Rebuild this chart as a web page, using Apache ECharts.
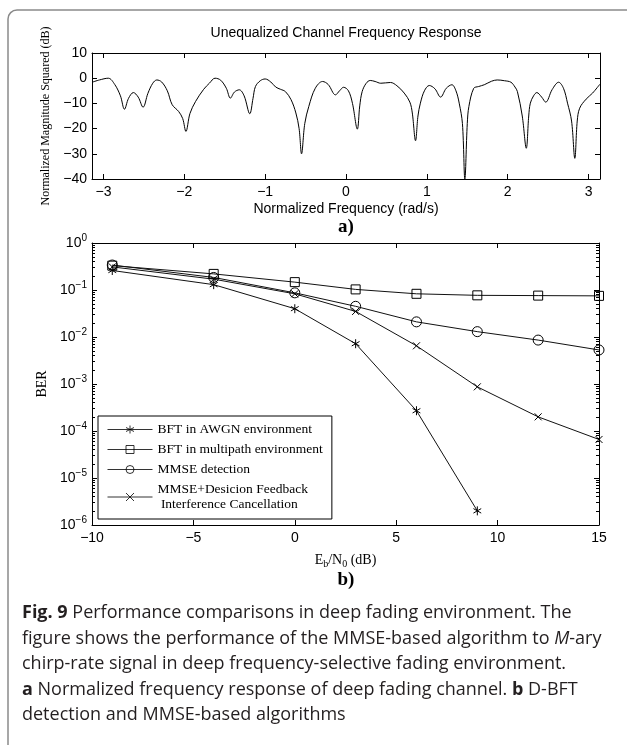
<!DOCTYPE html>
<html>
<head>
<meta charset="utf-8">
<script src="https://cdn.jsdelivr.net/npm/echarts@6/dist/echarts.min.js"></script>
<style>
html,body{margin:0;padding:0;background:#fff;}
#c{width:627px;height:745px;}
</style>
</head>
<body>
<div id="c"></div>
<script>
// ---------- Data: panel a) channel response ----------
const freqX = [-3.14,-3.05,-2.94,-2.86,-2.79,-2.74,-2.69,-2.63,-2.57,-2.51,-2.45,-2.39,-2.34,-2.28,-2.21,-2.15,-2.07,-2.02,-1.98,-1.93,-1.86,-1.76,-1.69,-1.62,-1.55,-1.48,-1.43,-1.38,-1.32,-1.26,-1.19,-1.15,-1.12,-1.06,-1.0,-0.93,-0.87,-0.81,-0.75,-0.68,-0.62,-0.58,-0.55,-0.51,-0.46,-0.38,-0.29,-0.22,-0.13,-0.08,-0.03,0.03,0.08,0.14,0.17,0.20,0.25,0.30,0.36,0.43,0.55,0.63,0.72,0.79,0.82,0.86,0.89,0.92,0.97,1.03,1.10,1.17,1.24,1.31,1.36,1.40,1.44,1.47,1.50,1.52,1.58,1.64,1.71,1.80,1.87,1.96,2.04,2.09,2.12,2.18,2.23,2.26,2.28,2.32,2.36,2.42,2.47,2.55,2.63,2.69,2.74,2.79,2.83,2.86,2.89,2.97,3.05,3.14];
const freqDb = [-1.6,-0.7,0,-2.5,-7,-12.3,-8,-5.7,-7.5,-11.5,-6,-2,-0.7,-1.5,-5,-10.5,-13.2,-16,-21.1,-14,-9.2,-4.4,-2,0,-0.8,-4,-7.9,-5.5,-4.6,-7,-14.1,-8,-3.3,-1,-0.3,-1.5,-3.5,-4.4,-5.3,-8.5,-13.8,-20,-30,-18,-11.2,-4,-1.3,-2.5,-6.6,-5,-3.6,-5,-10,-20.2,-11,-5.3,-2,-0.9,-1.3,-2.0,-1.7,-3,-5.9,-9.5,-13.8,-24.8,-15,-9.9,-5,-2.9,-4.2,-7.5,-4,-2.6,-5,-9.9,-18,-40,-18,-11.2,-4,-3.3,-2.6,-1.2,-0.7,-1.0,-1.6,-3.5,-5.3,-15,-27.8,-15,-9.9,-7,-5.7,-7.5,-9.5,-4.5,-1.6,-4,-9.9,-17,-31.8,-17,-11.9,-8.3,-5.9,-2.4];
const freqTicks = [-3,-2,-1,0,1,2,3];

// ---------- Data: panel b) BER ----------
const ebn0 = [-9,-4,0,3,6,9,12,15];
const berAwgn = [0.26,0.13,0.04,0.0072,2.7e-4,2e-6];
const berMultipath = [0.33,0.22,0.147,0.103,0.083,0.077,0.076,0.075];
const berMmse = [0.34,0.185,0.087,0.045,0.021,0.013,0.0086,0.0053];
const berMmseDf = [0.31,0.17,0.083,0.035,0.0065,8.7e-4,2e-4,6.6e-5];
const berMajor = [1e-6,1e-5,1e-4,1e-3,1e-2,1e-1,1];
const seriesNames = ['BFT in AWGN environment','BFT in multipath environment','MMSE detection','MMSE+Desicion Feedback\n Interference Cancellation'];

const SANS = 'Liberation Sans, Arial, Helvetica, sans-serif';
const SERIF = 'Liberation Serif, Times New Roman, serif';
const CAP = 'Open Sans';
const CAPSIZE = 18;
const minus = v => String(v).replace('-', '\u2212');

const berMinor = [];
for (let e = -6; e < 0; e++) for (let m = 2; m <= 9; m++) berMinor.push(m * Math.pow(10, e));

const pairs = (xs, ys) => ys.map((y, i) => [xs[i], y]);

const ASTER = 'path://M10,0 L10,20 M1.34,5 L18.66,15 M1.34,15 L18.66,5';
const CROSS = 'path://M0,0 L20,20 M0,20 L20,0';

const markerStyle = {color: 'transparent', borderColor: '#000', borderWidth: 1};
const lineSt = {color: '#111', width: 1};

function berSeries(name, data, symbol, size) {
  return {
    type: 'line', name, xAxisIndex: 2, yAxisIndex: 2, data,
    symbol, symbolSize: size, symbolKeepAspect: true, showAllSymbol: true,
    itemStyle: markerStyle, lineStyle: lineSt, emphasis: {disabled: true},
    animation: false, z: 3
  };
}

const chart = echarts.init(document.getElementById('c'), null, {renderer: 'canvas'});

const axLine = {show: true, onZero: false, lineStyle: {color: '#000', width: 1}};
const tickIn = (vals, len) => ({show: true, inside: true, length: len || 5, lineStyle: {color: '#000'}, customValues: vals});
const tickPlain = {show: true, inside: true, length: 5, lineStyle: {color: '#000'}};

const expLabel = v => {
  const e = Math.round(Math.log10(v));
  return '{b|10}{s|' + minus(e) + '}';
};

const capStyle = (text, y) => ({
  type: 'text', x: 22, y, silent: true,
  style: {text, font: CAPSIZE + 'px ' + CAP, fill: '#231f20', textVerticalAlign: 'middle',
    rich: {
      b: {fontWeight: 'bold', fontFamily: CAP, fontSize: CAPSIZE, fill: '#231f20'},
      i: {fontStyle: 'italic', fontFamily: CAP, fontSize: CAPSIZE, fill: '#231f20'}
    }}
});

chart.setOption({
  animation: false,
  backgroundColor: '#fff',
  grid: [
    {left: 92, right: 27, top: 53, height: 126, show: false},
    {left: 92, right: 28, top: 243, height: 282, show: false}
  ],
  xAxis: [
    {gridIndex: 0, type: 'value', min: -Math.PI, max: Math.PI, position: 'bottom',
     axisLine: axLine, axisTick: tickIn(freqTicks),
     axisLabel: {customValues: freqTicks, formatter: minus, color: '#000', fontFamily: SANS, fontSize: 14, margin: 6},
     splitLine: {show: false},
     name: 'Normalized Frequency (rad/s)', nameLocation: 'middle', nameGap: 23,
     nameTextStyle: {fontFamily: SANS, fontSize: 14, color: '#000'}},
    {gridIndex: 0, type: 'value', min: -Math.PI, max: Math.PI, position: 'top',
     axisLine: axLine, axisTick: tickIn(freqTicks), axisLabel: {show: false}, splitLine: {show: false}},
    {gridIndex: 1, type: 'value', min: -10, max: 15, interval: 5, position: 'bottom',
     axisLine: axLine, axisTick: tickPlain,
     axisLabel: {formatter: minus, color: '#000', fontFamily: SANS, fontSize: 14, margin: 6},
     splitLine: {show: false},
     name: '{n|E}{sub|b}{n|/N}{sub|0}{n| (dB)}', nameLocation: 'middle', nameGap: 26,
     nameTextStyle: {rich: {
       n: {fontFamily: SERIF, fontSize: 14, color: '#000'},
       sub: {fontFamily: SERIF, fontSize: 10, color: '#000', padding: [8, 0, 0, 0]}
     }}},
    {gridIndex: 1, type: 'value', min: -10, max: 15, interval: 5, position: 'top',
     axisLine: axLine, axisTick: tickPlain, axisLabel: {show: false}, splitLine: {show: false}}
  ],
  yAxis: [
    {gridIndex: 0, type: 'value', min: -40, max: 10, interval: 10, position: 'left',
     axisLine: axLine, axisTick: tickPlain,
     axisLabel: {formatter: minus, color: '#000', fontFamily: SANS, fontSize: 14, margin: 5},
     splitLine: {show: false},
     name: 'Normalized Magnitude Squared (dB)', nameLocation: 'middle', nameGap: 40, nameRotate: 90,
     nameTextStyle: {fontFamily: SERIF, fontSize: 12, color: '#000'}},
    {gridIndex: 0, type: 'value', min: -40, max: 10, interval: 10, position: 'right',
     axisLine: axLine, axisTick: tickPlain, axisLabel: {show: false}, splitLine: {show: false}},
    {gridIndex: 1, type: 'log', logBase: 10, min: 1e-6, max: 1, position: 'left',
     axisLine: axLine, axisTick: tickIn(berMajor, 5),
     axisLabel: {customValues: berMajor, formatter: expLabel, margin: 5, rich: {
       b: {fontFamily: SANS, fontSize: 14, color: '#000'},
       s: {fontFamily: SANS, fontSize: 10, color: '#000', padding: [0, 0, 10, 0]}
     }},
     splitLine: {show: false},
     name: 'BER', nameLocation: 'middle', nameGap: 40, nameRotate: 90,
     nameTextStyle: {fontFamily: SERIF, fontSize: 14, color: '#000'}},
    {gridIndex: 1, type: 'log', logBase: 10, min: 1e-6, max: 1, position: 'right',
     axisLine: axLine, axisTick: tickIn(berMajor, 5), axisLabel: {show: false}, splitLine: {show: false}},
    {gridIndex: 1, type: 'log', logBase: 10, min: 1e-6, max: 1, position: 'left',
     axisLine: {show: false, onZero: false}, axisTick: tickIn(berMinor, 3), axisLabel: {show: false}, splitLine: {show: false}},
    {gridIndex: 1, type: 'log', logBase: 10, min: 1e-6, max: 1, position: 'right',
     axisLine: {show: false, onZero: false}, axisTick: tickIn(berMinor, 3), axisLabel: {show: false}, splitLine: {show: false}}
  ],
  legend: {
    data: seriesNames,
    orient: 'vertical', left: 98, top: 416,
    backgroundColor: '#fff', borderColor: '#000', borderWidth: 1, borderRadius: 0,
    padding: [6, 9, 7, 9], itemGap: 5, itemWidth: 45, itemHeight: 10,
    lineStyle: {width: 1, color: '#333'},
    itemStyle: {color: 'transparent', borderColor: '#000', borderWidth: 0.8},
    textStyle: {fontFamily: SERIF, fontSize: 13.5, color: '#000', lineHeight: 15},
    selectedMode: false
  },
  series: [
    {type: 'line', xAxisIndex: 0, yAxisIndex: 0, data: pairs(freqX, freqDb),
     showSymbol: false, smooth: 0.35, clip: true,
     lineStyle: {color: '#000', width: 1}, emphasis: {disabled: true}},
    berSeries(seriesNames[0], pairs(ebn0, berAwgn), ASTER, 9),
    berSeries(seriesNames[1], pairs(ebn0, berMultipath), 'rect', 9),
    berSeries(seriesNames[2], pairs(ebn0, berMmse), 'circle', 10),
    berSeries(seriesNames[3], pairs(ebn0, berMmseDf), CROSS, 7)
  ],
  graphic: [
    {type: 'rect', shape: {x: 8, y: 10, width: 700, height: 800, r: 9}, silent: true,
     style: {fill: 'none', stroke: '#8a8a8a', lineWidth: 1.5}, z: -10},
    {type: 'text', x: 346, y: 33, silent: true,
     style: {text: 'Unequalized Channel Frequency Response', font: '14px ' + SANS, fill: '#000', textAlign: 'center', textVerticalAlign: 'middle'}},
    {type: 'text', x: 346, y: 227, silent: true,
     style: {text: 'a)', font: 'bold 19px ' + SERIF, fill: '#000', textAlign: 'center', textVerticalAlign: 'middle'}},
    {type: 'text', x: 346, y: 580, silent: true,
     style: {text: 'b)', font: 'bold 19px ' + SERIF, fill: '#000', textAlign: 'center', textVerticalAlign: 'middle'}},
    capStyle('{b|Fig. 9} Performance comparisons in deep fading environment. The', 613),
    capStyle('figure shows the performance of the MMSE-based algorithm to {i|M}-ary', 638.5),
    capStyle('chirp-rate signal in deep frequency-selective fading environment.', 664),
    capStyle('{b|a} Normalized frequency response of deep fading channel. {b|b} D-BFT', 689.5),
    capStyle('detection and MMSE-based algorithms', 715)
  ]
});
</script>
</body>
</html>
